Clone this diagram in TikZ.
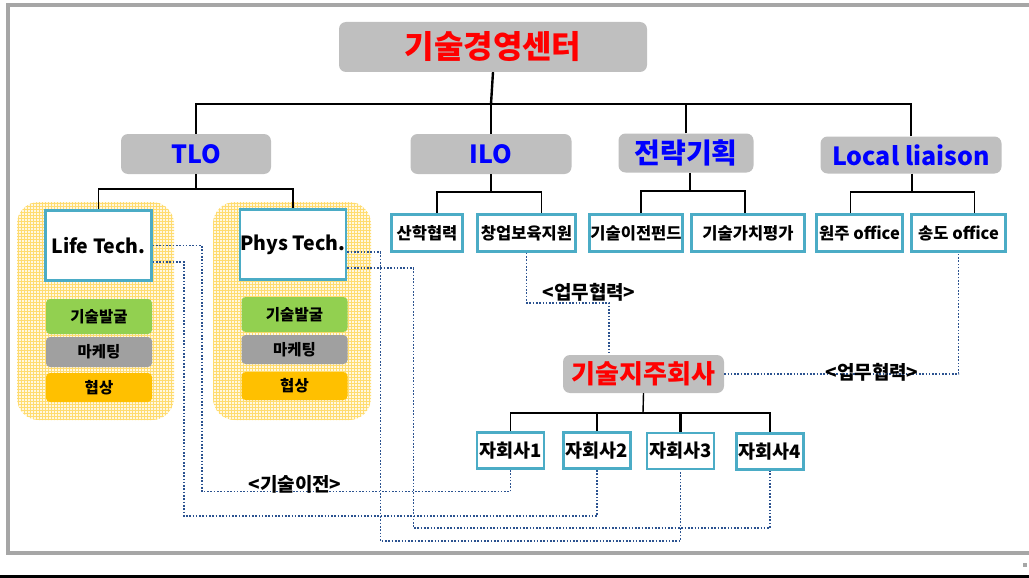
\documentclass[tikz,border=0pt]{standalone}
\usepackage{fontspec}
\setmainfont{Noto Sans CJK KR}
\usetikzlibrary{patterns,calc}
\definecolor{boxgray}{HTML}{BFBFBF}
\definecolor{bordergray}{HTML}{A6A6A6}
\definecolor{tealb}{HTML}{4BACC6}
\definecolor{dotblue}{HTML}{2B5290}
\definecolor{greenb}{HTML}{92D050}
\definecolor{grayb}{HTML}{A0A0A0}
\definecolor{orangeb}{HTML}{FFC000}
\definecolor{yellowbg}{HTML}{FFF8E2}
\definecolor{yellowpat}{HTML}{FFDC70}
\definecolor{redt}{HTML}{FF0000}
\definecolor{bluet}{HTML}{0000FF}
\begin{document}
\begin{tikzpicture}[x=1pt,y=-1pt,
  graybox/.style={fill=boxgray, rounded corners=7pt, inner sep=0pt, font=\bfseries},
  topfont/.style={font=\bfseries\fontsize{25}{28}\selectfont, text=bluet},
  tealbox/.style={draw=tealb, line width=2.6pt, fill=white, inner sep=0pt, minimum height=37pt, font=\bfseries\fontsize{16.5}{18}\selectfont},
  techbox/.style={draw=tealb, line width=2.6pt, fill=white, inner sep=0pt, minimum width=106pt, minimum height=70pt, font=\bfseries\fontsize{19.5}{22}\selectfont},
  subbox/.style={rounded corners=4pt, inner sep=0pt, minimum width=106pt, font=\bfseries\fontsize{15.5}{17}\selectfont},
  zbox/.style={draw=tealb, line width=2.6pt, fill=white, inner sep=0pt, minimum width=67pt, minimum height=36pt, font=\bfseries\fontsize{18.5}{20}\selectfont},
  conn/.style={black, line width=1.4pt},
  thick conn/.style={black, line width=2.4pt},
  dotline/.style={dotblue, line width=1.6pt, dash pattern=on 1.6pt off 1.7pt},
  lbl/.style={font=\bfseries\fontsize{19}{21}\selectfont, inner sep=0pt},
  region/.style={rounded corners=22pt}
]
\useasboundingbox (0,0) rectangle (1029,578);
% frame
\draw[bordergray, line width=4pt] (1029,5) -- (8,5) -- (8,553) -- (1029,553);
\fill[bordergray] (1023,563) rectangle (1027,567);
\draw[black, line width=3pt] (0,576.5) -- (1029,576.5);

% yellow regions
\foreach \xa/\xb in {17/174, 213/371}{
  \fill[yellowbg, region] (\xa,202) rectangle (\xb,420);
  \path[pattern=grid, pattern color=yellowpat, region] (\xa,202) rectangle (\xb,420);
}

% top level
\node[graybox, minimum width=308pt, minimum height=50pt, text=redt, font=\bfseries\fontsize{32}{36}\selectfont] (root) at (493,47) {기술경영센터};
\node[graybox, topfont, minimum width=150pt, minimum height=40pt] (tlo) at (196,154) {TLO};
\node[graybox, topfont, minimum width=161pt, minimum height=40pt] (ilo) at (491,154) {ILO};
\node[graybox, topfont, font=\bfseries\fontsize{28}{30}\selectfont, minimum width=135pt, minimum height=39pt] (str) at (686,153) {전략기획};
\node[graybox, topfont, minimum width=181pt, minimum height=37pt] (loc) at (911,155) {Local liaison};

% second level
\node[techbox] (lt) at (98.5,245.5) {Life Tech.};
\node[techbox] (pt) at (293,244.5) {Phys Tech.};
\node[tealbox, minimum width=71pt] (sh) at (427,233) {산학협력};
\node[tealbox, minimum width=98pt] (cy) at (526.5,233) {창업보육지원};
\node[tealbox, minimum width=93pt] (fd) at (636,233) {기술이전펀드};
\node[tealbox, minimum width=113pt] (gp) at (748,233) {기술가치평가};
\node[tealbox, minimum width=86pt] (wj) at (859.5,233) {원주 office};
\node[tealbox, minimum width=94pt] (sd) at (958.5,233) {송도 office};

% inner boxes
\node[subbox, fill=greenb, minimum height=35pt] (g1) at (99,316.5) {기술발굴};
\node[subbox, fill=grayb, minimum height=30pt] (m1) at (99,352) {마케팅};
\node[subbox, fill=orangeb, minimum height=29pt] (h1) at (99,387.5) {협상};
\node[subbox, fill=greenb, minimum height=35pt] (g2) at (294.5,314.5) {기술발굴};
\node[subbox, fill=grayb, minimum height=29pt] (m2) at (294.5,349.5) {마케팅};
\node[subbox, fill=orangeb, minimum height=28pt] (h2) at (294.5,386) {협상};

% holding
\node[graybox, minimum width=161pt, minimum height=38pt, text=redt, font=\bfseries\fontsize{26}{30}\selectfont] (hold) at (643.5,374) {기술지주회사};
\node[zbox] (s1) at (510.5,450.5) {자회사1};
\node[zbox] (s2) at (597,450.5) {자회사2};
\node[zbox] (s3) at (680.5,451) {자회사3};
\node[zbox] (s4) at (770,451.5) {자회사4};

% tree connectors
\coordinate (b0) at (491,104);
\draw[thick conn] (root.south) -- (b0);
\draw[conn] (tlo.north) |- (b0);
\draw[thick conn] (ilo.north) -- (b0);
\draw[thick conn] (str.north) |- (b0);
\draw[conn] (loc.north) |- (b0);

\coordinate (b1) at (196,189);
\draw[conn] (tlo.south) -- (b1);
\draw[conn] (lt.north) |- (b1);
\draw[conn] (pt.north) |- (b1);

\coordinate (b2) at (491,192);
\draw[conn] (ilo.south) -- (b2);
\draw[conn] ([xshift=10pt]sh.north) |- (b2);
\draw[conn] ([xshift=15pt]cy.north) |- (b2);

\coordinate (b3) at (690,191);
\draw[conn] (str.south -| b3) -- (b3);
\draw[conn] ([xshift=5pt]fd.north) |- (b3);
\draw[conn] ([xshift=-3pt]gp.north) |- (b3);

\coordinate (b4) at (912,192);
\draw[conn] (loc.south -| b4) -- (b4);
\draw[conn] ([xshift=-9pt]wj.north) |- (b4);
\draw[conn] ([xshift=16pt]sd.north) |- (b4);

\coordinate (b5) at (643,413);
\draw[conn] (hold.south) -- (b5);
\draw[conn] (s1.north) |- (b5);
\draw[thick conn] (s2.north) |- (b5);
\draw[thick conn] (s3.north) |- (b5);
\draw[conn] (s4.north) |- (b5);

% dotted connectors
\draw[dotline] (lt.east) -- ++(49,0) -- ++(0,246) -| (s1.south);
\draw[dotline] ([yshift=-16.5pt]lt.east) -- ++(31,0) -- ++(0,254) -| (s2.south);
\draw[dotline] ([yshift=-7.5pt]pt.east) -- ++(33,0) -- ++(0,289) -| (s3.south);
\draw[dotline] ([yshift=-23.5pt]pt.east) -- ++(66,0) -- ++(0,260) -| (s4.south);
\draw[dotline] (cy.south) -- ++(0,50) -| ([xshift=-34.5pt]hold.north);
\draw[dotline] (hold.east) -| (sd.south);

% labels
\node[lbl] (l1) at (589,292) {<업무협력>};
\node[lbl] (l2) at (872,372) {<업무협력>};
\node[lbl] (l3) at (295,484) {<기술이전>};
\end{tikzpicture}
\end{document}
